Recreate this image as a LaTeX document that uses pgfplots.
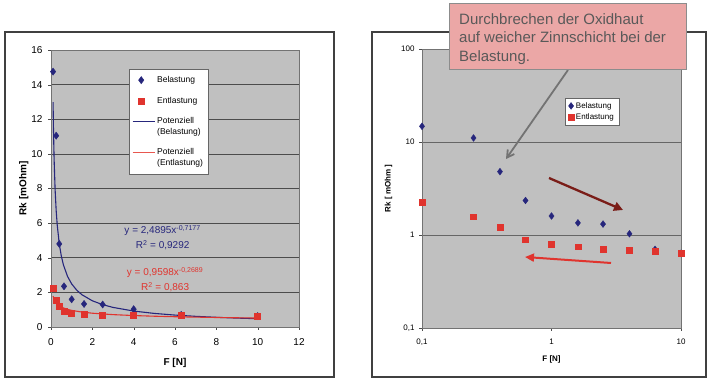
\documentclass[border=0pt]{standalone}
\usepackage{fontspec}
\setmainfont{Liberation Sans}
\usepackage{pgfplots}
\pgfplotsset{compat=1.18}
\usetikzlibrary{arrows.meta}
\definecolor{plotbg}{HTML}{C0C0C0}
\definecolor{navy}{HTML}{26267C}
\definecolor{exred}{HTML}{E0342E}
\definecolor{lgred}{HTML}{E8574F}
\definecolor{callout}{HTML}{EBA7A6}
\definecolor{darkred}{HTML}{7A1D18}
\definecolor{txtgray}{HTML}{595959}
\begin{document}
\begin{tikzpicture}[x=1pt,y=1pt]
\fill[white] (0,0) rectangle (715,382);
\draw[line width=1.3pt, black!75] (5,5) rectangle (334,350);
\draw[line width=1.3pt, black!75] (372,5) rectangle (706,350);

% ---------------- left axis ----------------
\begin{axis}[at={(51pt,55pt)}, anchor=south west, scale only axis,
  width=248pt, height=277pt,
  xmin=0, xmax=12, ymin=0, ymax=16,
  xtick={0,2,...,12}, ytick={0,2,...,16},
  axis background/.style={fill=plotbg},
  axis line style={black!55},
  ymajorgrids, major grid style={black!70, line width=0.7pt},
  tick pos=left, tick align=outside, major tick length=3pt,
  tick style={black!70},
  ticklabel style={font=\fontsize{10}{12}\selectfont},
  /pgf/number format/assume math mode=true,
  xticklabel style={yshift=-5pt},
  yticklabel style={xshift=-2pt},
  xlabel={\textbf{F [N]}}, ylabel={\textbf{Rk [mOhm]}},
  xlabel style={font=\fontsize{10}{12}\selectfont, yshift=-6pt},
  ylabel style={font=\fontsize{10}{12}\selectfont, yshift=-4pt},
  legend style={at={(0.3145,0.931)}, anchor=north west, draw=black!60,
    fill=white, font=\fontsize{8.5}{10.5}\selectfont, row sep=9pt,
    inner xsep=3pt, inner ysep=5pt, cells={align=left}},
  legend cell align=left,
  clip=true]
\addplot[only marks, mark=diamond*, mark size=3.6pt, color=navy] coordinates {
 (0.1,14.75) (0.25,11.05) (0.4,4.8) (0.63,2.35) (1,1.6) (1.6,1.33) (2.5,1.3) (4,1.03) (6.3,0.7) (10,0.63)};
\addlegendentry{Belastung}
\addplot[only marks, mark=square*, mark size=3pt, color=exred] coordinates {
 (0.1,2.26) (0.25,1.57) (0.4,1.21) (0.63,0.89) (1,0.80) (1.6,0.75) (2.5,0.71) (4,0.68) (6.3,0.67) (10,0.64)};
\addlegendentry{Entlastung}
\addplot[no marks, color=navy, line width=1.1pt,
  legend image code/.code={\draw[navy, line width=1pt] (0pt,5pt) -- (22pt,5pt);}] coordinates {
 (0.1,12.995) (0.12,11.402) (0.15,9.714) (0.2,7.903) (0.25,6.733) (0.3,5.907) (0.4,4.805) (0.5,4.094) (0.6,3.592) (0.8,2.922) (1,2.4895) (1.25,2.121) (1.5,1.861) (2,1.514) (2.5,1.290) (3,1.1316) (4,0.9205) (5,0.7843) (6,0.6881) (7,0.6160) (8,0.5597) (9,0.5143) (10,0.4769)};
\addlegendentry{Potenziell\\(Belastung)}
\addplot[no marks, color=exred, line width=1.1pt,
  legend image code/.code={\draw[lgred, line width=1pt] (0pt,5pt) -- (22pt,5pt);}] coordinates {
 (0.1,1.7827) (0.15,1.5986) (0.2,1.4795) (0.3,1.3267) (0.4,1.2280) (0.5,1.1565) (0.6,1.1011) (0.8,1.0191) (1,0.9598) (1.5,0.8607) (2,0.7966) (3,0.7143) (4,0.6611) (5,0.6227) (6,0.5929) (8,0.5487) (10,0.5167)};
\addlegendentry{Potenziell\\(Entlastung)}
\node[color=navy, align=center, font=\fontsize{10}{15}\selectfont] at (axis cs:5.4,5.15)
  {y = 2,4895x\textsuperscript{-0,7177}\\R\textsuperscript{2} = 0,9292};
\node[color=exred, align=center, font=\fontsize{10}{15}\selectfont] at (axis cs:5.52,2.74)
  {y = 0,9598x\textsuperscript{-0,2689}\\R\textsuperscript{2} = 0,863};
\end{axis}

% ---------------- right axis ----------------
\begin{axis}[at={(422pt,54pt)}, anchor=south west, scale only axis,
  width=259pt, height=279pt,
  xmode=log, ymode=log,
  xmin=0.1, xmax=10, ymin=0.1, ymax=100,
  xtick={0.1,1,10}, xticklabels={{0,1},1,10},
  ytick={0.1,1,10,100}, yticklabels={{0,1},1,10,100},
  xminorticks=false, yminorticks=false,
  axis background/.style={fill=plotbg},
  axis line style={black!55},
  ymajorgrids, major grid style={black!60, line width=0.6pt},
  tick pos=left, tick align=outside, major tick length=3pt,
  tick style={black!70},
  ticklabel style={font=\fontsize{8}{9.5}\selectfont},
  xticklabel style={yshift=-4pt},
  yticklabel style={xshift=-1pt},
  xlabel={\textbf{F [N]}}, ylabel={\textbf{Rk [ mOhm ]}},
  xlabel style={font=\fontsize{8}{10}\selectfont, yshift=-4pt},
  ylabel style={font=\fontsize{8}{10}\selectfont, yshift=2pt},
  legend style={at={(0.552,0.824)}, anchor=north west, draw=black!60,
    fill=white, font=\fontsize{8}{9.5}\selectfont, row sep=0pt,
    inner xsep=3pt, inner ysep=2pt},
  legend cell align=left,
  legend image code/.code={\draw[#1] plot coordinates {(0pt,0pt)};}]
\addplot[only marks, mark=diamond*, mark size=3.4pt, color=navy] coordinates {
 (0.1,14.75) (0.25,11.05) (0.4,4.8) (0.63,2.35) (1,1.6) (1.6,1.35) (2.5,1.31) (4,1.03) (6.3,0.7) (10,0.636)};
\addlegendentry{Belastung}
\addplot[only marks, mark=square*, mark size=2.9pt, color=exred] coordinates {
 (0.1,2.26) (0.25,1.57) (0.4,1.21) (0.63,0.89) (1,0.80) (1.6,0.75) (2.5,0.71) (4,0.68) (6.3,0.67) (10,0.64)};
\addlegendentry{Entlastung}
\end{axis}

% ---------------- annotations ----------------
\draw[line width=1.8pt, black!55, -{Straight Barb[length=7pt,width=8pt]}] (568,312) -- (506,223);
\draw[line width=2.3pt, darkred, -{Triangle[length=9pt,width=9pt]}] (549,204) -- (623,172);
\draw[line width=2pt, exred, -{Triangle[length=9pt,width=8pt]}] (611,119) -- (525,125);
\node[draw=black!45, line width=0.8pt, fill=callout, anchor=north west, minimum width=237pt, minimum height=66pt, inner sep=0pt] at (449,379) {};
\node[anchor=north west, align=left, text=txtgray, font=\fontsize{15}{18.5}\selectfont, inner sep=0pt] at (459,369)
  {Durchbrechen der Oxidhaut\\auf weicher Zinnschicht bei der\\Belastung.};
\end{tikzpicture}
\end{document}
